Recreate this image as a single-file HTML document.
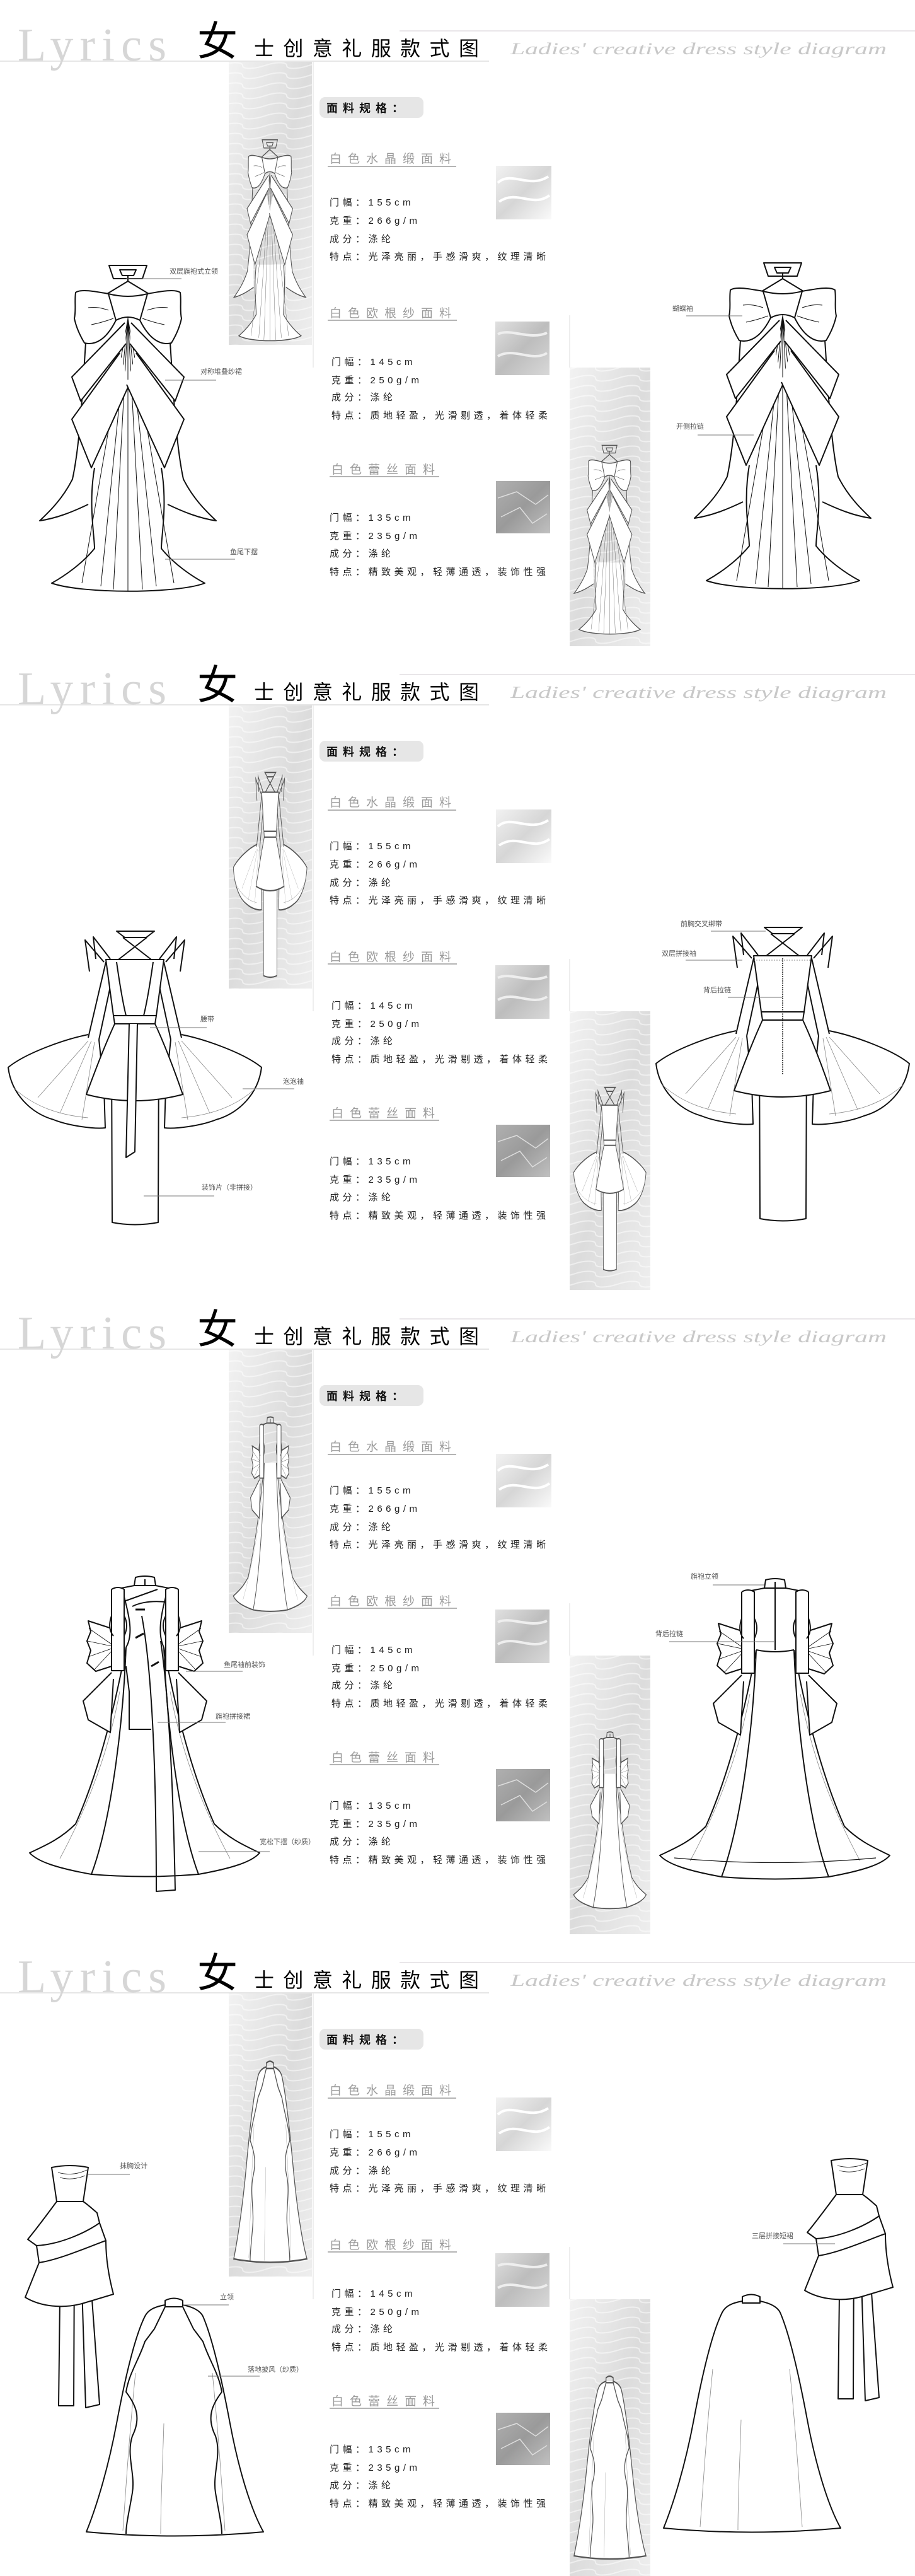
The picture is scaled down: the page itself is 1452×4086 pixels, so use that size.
<!DOCTYPE html>
<html><head><meta charset="utf-8"><style>
html,body{margin:0;padding:0;background:#fff;}
body{width:1452px;height:4086px;overflow:hidden;}
svg{display:block;}
.cj{font-family:"Liberation Sans","Noto Sans CJK SC",sans-serif;}
.lbl{font-family:"Liberation Sans","Noto Sans CJK SC",sans-serif;font-size:11px;fill:#555;}
.spec{font-family:"Liberation Sans","Noto Sans CJK SC",sans-serif;font-size:15px;fill:#222;letter-spacing:5.5px;}
.ttl{font-family:"Liberation Sans","Noto Sans CJK SC",sans-serif;font-size:19px;fill:#9a9a9a;letter-spacing:10px;}
</style></head><body>
<svg width="1452" height="4086" viewBox="0 0 1452 4086" xmlns="http://www.w3.org/2000/svg">
<defs>
<linearGradient id="sg" x1="0" y1="0" x2="1" y2="1"><stop offset="0" stop-color="#f2f2f2"/><stop offset="0.5" stop-color="#dcdcdc"/><stop offset="1" stop-color="#eeeeee"/></linearGradient>
<pattern id="wav" width="70" height="16" patternUnits="userSpaceOnUse"><path d="M0,8 C17,2 35,2 35,8 S52,14 70,8" stroke="#fff" stroke-width="2" fill="none"/></pattern>
<linearGradient id="w1" x1="0" y1="0" x2="1" y2="1"><stop offset="0" stop-color="#f2f2f2"/><stop offset="0.5" stop-color="#d6d6d6"/><stop offset="1" stop-color="#fafafa"/></linearGradient>
<linearGradient id="w2" x1="0" y1="0" x2="1" y2="1"><stop offset="0" stop-color="#e0e0e0"/><stop offset="0.5" stop-color="#bdbdbd"/><stop offset="1" stop-color="#d8d8d8"/></linearGradient>
<linearGradient id="w3" x1="0" y1="0" x2="1" y2="1"><stop offset="0" stop-color="#b0b0b0"/><stop offset="0.5" stop-color="#9a9a9a"/><stop offset="1" stop-color="#c0c0c0"/></linearGradient>

<g id="d1">
<path d="M150,742 C140,800 150,850 150,870 C130,895 100,915 82,925 C130,942 280,942 325,925 C306,915 276,895 256,870 C256,850 266,800 256,742" fill="#fff"/>
<path d="M136,544 C132,600 128,700 115,760 C100,790 80,810 63,826 C90,822 115,812 140,800" fill="#fff"/>
<path d="M270,544 C274,600 278,700 291,760 C306,790 326,810 343,826 C316,822 291,812 266,800" fill="#fff"/>
<path d="M203,500 L203,937 M203,505 L180,935 M203,505 L226,935 M203,505 L160,930 M203,505 L248,930 M203,505 L130,925 M203,505 L276,925" stroke-width="1"/>
<path d="M198,512 L114,598 L128,636 L200,545 M190,560 L114,665 L145,742 L205,610" fill="#fff"/>
<path d="M208,512 L292,598 L278,636 L206,545 M216,560 L292,665 L261,742 L201,610" fill="#fff"/>
<path d="M173,421 H233 L226,442 H180 Z M190,428 H216 L212,437 H194 Z M203,437 V446"/>
<path d="M203,446 L170,466 M203,446 L236,466"/>
<path d="M172,466 C150,462 128,458 120,464 C118,478 121,492 118,505 C121,520 128,534 134,544 C150,548 168,540 184,508" fill="#fff"/>
<path d="M234,466 C256,462 278,458 286,464 C288,478 285,492 288,505 C285,520 278,534 272,544 C256,548 238,540 222,508" fill="#fff"/>
<path d="M172,466 Q203,474 234,466 L222,508 Q203,498 184,508 Z" fill="#fff"/>
<path d="M140,488 C155,486 165,490 172,492 M145,515 C160,512 172,508 180,505 M266,488 C251,486 241,490 234,492 M261,515 C246,512 234,508 226,505" stroke-width="1"/>
</g>

<g id="d2c">
<path d="M140,620 C100,628 40,650 13,672 C18,715 50,745 85,755 C110,765 150,770 167,768 L165,705 L157,628" fill="#fff"/>
<path d="M288,620 C328,628 388,650 415,672 C410,715 378,745 343,755 C318,765 278,770 261,768 L263,705 L271,628" fill="#fff"/>
<path d="M22,705 C55,735 95,748 140,752 M406,705 C373,735 333,748 288,752 M140,630 L60,720 M145,630 L95,745 M150,632 L130,755 M288,630 L368,720 M283,630 L333,745 M278,632 L298,755" stroke-width="0.8" stroke="#888"/>
<path d="M185,456 H245 L232,466 H198 Z M195,466 L240,501 M233,466 L188,501"/>
<path d="M175,500 L148,465 L152,500 M165,505 L135,470 L142,520"/>
<path d="M253,500 L280,465 L276,500 M263,505 L293,470 L286,520"/>
<path d="M168,505 L140,625 M178,530 L157,628 M260,505 L288,625 M250,530 L271,628"/>
<path d="M177,643 L178,918 Q214,925 251,918 L252,643" fill="#fff"/>
<path d="M182,603 C165,640 150,680 137,715 Q214,735 290,715 C278,680 263,640 246,603" fill="#fff"/>
<path d="M168,501 H260 L248,590 H180 Z" fill="#fff"/>
<path d="M180,590 H248 L246,603 H182 Z" fill="#fff"/>
</g>
<g id="d3c">
<path d="M200,570 C185,650 160,760 120,850 C95,875 70,885 47,896 C60,910 90,920 145,930 Q230,937 315,930 C370,920 400,910 412,896 C390,885 365,875 340,850 C300,760 275,650 260,570" fill="#fff"/>
<path d="M200,570 C195,700 175,850 145,930 M260,570 C265,700 285,850 315,930"/>
<path d="M190,640 C170,750 130,840 95,905 M270,640 C290,750 330,840 365,905" stroke-width="0.8" stroke="#888"/>
<path d="M215,459 Q230,455 245,459 L247,472 H213 Z M230,462 V472"/>
<path d="M213,472 L182,478 M247,472 L278,478"/>
<path d="M177,540 L140,528 L144,545 L138,560 L144,575 L138,595 L152,608 L177,600 M177,610 L132,655 L140,685 L175,705 L180,620" fill="#fff"/>
<path d="M283,540 L320,528 L316,545 L322,560 L316,575 L322,595 L308,608 L283,600 M283,610 L328,655 L320,685 L285,705 L280,620" fill="#fff"/>
<path d="M177,565 L141,540 M177,568 L139,560 M177,572 L140,585 M177,576 L150,605 M283,565 L319,540 M283,568 L321,560 M283,572 L320,585 M283,576 L310,605" stroke-width="0.8"/>
<path d="M177,478 L177,607 H197 L197,478 Q187,472 177,478 M177,520 Q170,540 180,552 M197,520 Q205,535 197,552" fill="#fff"/>
<path d="M283,478 L283,607 H263 L263,478 Q273,472 283,478 M283,520 Q290,540 280,552 M263,520 Q255,535 263,552" fill="#fff"/>
</g>
<g id="d4top">
<path d="M96,500 L93,752 L117,752 L118,505 M128,500 L136,755 L158,750 L140,500" fill="#fff"/>
<path d="M62,525 L40,580 C65,595 100,598 130,590 L180,575 C172,545 168,515 168,490" fill="#fff"/>
<path d="M58,498 L62,525 C95,520 140,500 168,490 L158,462" fill="#fff"/>
<path d="M90,428 C70,455 55,475 44,488 L58,498 C95,496 135,478 158,462 L154,446 C145,438 138,432 132,428" fill="#fff"/>
<path d="M82,374 Q111,368 140,374 L132,428 H90 Z" fill="#fff"/>
<path d="M92,382 C110,387 125,384 138,378 M95,390 C110,394 122,392 135,387" stroke-width="0.8"/>
</g>
<g id="d4capeO">
<path d="M262,592 C245,595 235,600 230,610 C215,640 200,700 185,780 C170,860 150,920 137,952 Q276,965 418,952 C400,920 380,860 365,780 C350,700 335,640 322,610 C317,600 305,595 290,592" fill="#fff"/>
<path d="M262,585 Q276,578 290,585 L290,595 H262 Z"/>
<path d="M215,700 C205,800 200,880 195,950 M337,700 C347,800 352,880 357,950 M260,780 C258,850 255,900 255,955" stroke-width="0.8" stroke="#888"/>
</g>
<g id="d4capeF">
<path d="M262,595 L245,630 L230,650 C220,680 205,700 200,730 C215,750 225,770 210,800 C200,830 215,860 210,890 C205,920 200,940 200,955"/>
<path d="M290,595 L307,630 L322,650 C332,680 347,700 352,730 C337,750 327,770 342,800 C352,830 337,860 342,890 C347,920 352,940 352,955"/>
</g>
</defs>

<g id="P1">
<line x1="634" y1="49" x2="1452" y2="49" stroke="#e2dde2" stroke-width="1.5"/>
<line x1="0" y1="97" x2="776" y2="97" stroke="#ddd" stroke-width="1.5"/>
<text x="28" y="96" font-family="Liberation Serif,serif" font-size="74" fill="#d6d6d6" textLength="236" lengthAdjust="spacing">Lyrics</text>
<text x="313" y="88" class="cj" font-size="64" fill="#000">女</text>
<text x="403" y="88" class="cj" font-size="32" fill="#000" textLength="357" lengthAdjust="spacing">士创意礼服款式图</text>
<text x="810" y="86" font-family="Liberation Serif,serif" font-style="italic" font-size="26" fill="#c8c8c8" textLength="597" lengthAdjust="spacingAndGlyphs">Ladies' creative dress style diagram</text>
<line x1="497" y1="98" x2="497" y2="583" stroke="#ddd"/>
<line x1="904" y1="500" x2="904" y2="583" stroke="#ddd"/>
<rect x="363" y="98" width="132" height="449" fill="url(#sg)"/><rect x="363" y="98" width="132" height="449" fill="url(#wav)" opacity="0.5"/>
<rect x="904" y="583" width="128" height="442" fill="url(#sg)"/><rect x="904" y="583" width="128" height="442" fill="url(#wav)" opacity="0.5"/>
<rect x="507" y="154" width="165" height="33" rx="9" fill="#e6e6e6"/>
<text x="518" y="178" class="cj" font-size="18" font-weight="bold" fill="#111" letter-spacing="8">面料规格：</text>
<text x="523" y="258" class="ttl">白色水晶缎面料</text><line x1="520" y1="264" x2="724" y2="264" stroke="#888" stroke-width="1.2"/>
<rect x="787" y="263" width="88" height="85" fill="url(#w1)"/><path d="M790,290 C810,270 840,300 870,280 M792,320 C820,300 845,330 872,310" stroke="#fff" stroke-width="4" fill="none"/>
<text x="523" y="326" class="spec">门幅：155cm</text><text x="523" y="355" class="spec">克重：266g/m</text><text x="523" y="384" class="spec">成分：涤纶</text><text x="523" y="412" class="spec">特点：光泽亮丽，手感滑爽，纹理清晰</text>
<text x="523" y="503" class="ttl">白色欧根纱面料</text><line x1="520" y1="508" x2="725" y2="508" stroke="#888" stroke-width="1.2"/>
<rect x="786" y="510" width="86" height="85" fill="url(#w2)"/><path d="M790,530 C810,520 840,540 868,528 M790,565 C815,550 845,575 868,560" stroke="#eee" stroke-width="4" fill="none"/>
<text x="526" y="579" class="spec">门幅：145cm</text><text x="526" y="608" class="spec">克重：250g/m</text><text x="526" y="635" class="spec">成分：涤纶</text><text x="526" y="664" class="spec">特点：质地轻盈，光滑剔透，着体轻柔</text>
<text x="526" y="751" class="ttl">白色蕾丝面料</text><line x1="523" y1="756" x2="697" y2="756" stroke="#888" stroke-width="1.2"/>
<rect x="787" y="763" width="86" height="83" fill="url(#w3)"/><path d="M790,790 L820,780 L850,800 L870,785 M795,820 L825,805 L845,830 L868,815" stroke="#ddd" stroke-width="1.5" fill="none"/>
<text x="523" y="826" class="spec">门幅：135cm</text><text x="523" y="855" class="spec">克重：235g/m</text><text x="523" y="883" class="spec">成分：涤纶</text><text x="523" y="912" class="spec">特点：精致美观，轻薄通透，装饰性强</text>
</g>
<use href="#P1" y="1021"/>
<use href="#P1" y="2043"/>
<use href="#P1" y="3064"/>

<g fill="none" stroke="#111" stroke-width="2" stroke-linejoin="round">
<use href="#d1"/>
<use href="#d1" transform="translate(1039,-4)"/>
</g>
<svg x="368" y="215" width="122" height="330" viewBox="55 410 300 535" preserveAspectRatio="none"><g fill="none" stroke="#555" stroke-width="2.5"><use href="#d1"/></g></svg>
<svg x="908" y="700" width="120" height="310" viewBox="55 410 300 535" preserveAspectRatio="none"><g fill="none" stroke="#555" stroke-width="2.5"><use href="#d1"/></g></svg>
<g stroke="#777" stroke-width="0.9">
<line x1="200" y1="442" x2="288" y2="442"/><line x1="262" y1="603" x2="343" y2="603"/><line x1="262" y1="887" x2="373" y2="887"/>
<line x1="1089" y1="501" x2="1178" y2="501"/><line x1="1107" y1="690" x2="1196" y2="690"/>
</g>
<text x="269" y="434" class="lbl">双层旗袍式立领</text>
<text x="318" y="593" class="lbl">对称堆叠纱裙</text>
<text x="365" y="879" class="lbl">鱼尾下摆</text>
<text x="1067" y="493" class="lbl">蝴蝶袖</text>
<text x="1073" y="680" class="lbl">开侧拉链</text>

<g transform="translate(0,1021)">
<g fill="none" stroke="#111" stroke-width="2" stroke-linejoin="round">
<use href="#d2c"/>
<path d="M185,505 C190,540 195,570 200,590 M243,505 C238,540 233,570 228,590 M205,603 L200,815 L214,806 L218,603" fill="#fff"/>
<g transform="translate(1028,-6)"><use href="#d2c"/><path d="M214,505 V690" stroke-dasharray="2,1.5" stroke-width="1.5"/><path d="M168,508 H260" stroke="#888" stroke-width="1" stroke-dasharray="2,2"/></g>
</g>
<svg x="368" y="200" width="122" height="335" viewBox="5 450 420 480" preserveAspectRatio="none"><g fill="none" stroke="#555" stroke-width="3"><use href="#d2c"/></g></svg>
<svg x="908" y="700" width="120" height="300" viewBox="5 450 420 480" preserveAspectRatio="none"><g fill="none" stroke="#555" stroke-width="3"><use href="#d2c"/></g></svg>
<g stroke="#777" stroke-width="0.9">
<line x1="238" y1="609" x2="328" y2="609"/><line x1="385" y1="706" x2="467" y2="706"/><line x1="228" y1="876" x2="340" y2="876"/>
<line x1="1128" y1="456" x2="1215" y2="456"/><line x1="1088" y1="502" x2="1178" y2="502"/><line x1="1155" y1="561" x2="1242" y2="561"/>
</g>
<text x="318" y="599" class="lbl">腰带</text>
<text x="449" y="698" class="lbl">泡泡袖</text>
<text x="320" y="866" class="lbl">装饰片（非拼接）</text>
<text x="1080" y="448" class="lbl">前胸交叉绑带</text>
<text x="1050" y="495" class="lbl">双层拼接袖</text>
<text x="1116" y="553" class="lbl">背后拉链</text>
</g>

<g transform="translate(0,2043)">
<g fill="none" stroke="#111" stroke-width="2" stroke-linejoin="round">
<use href="#d3c"/>
<path d="M197,490 C205,520 212,550 200,570 M263,490 C255,520 250,550 260,570 M197,497 L250,478 M210,505 Q230,495 263,498"/>
<path d="M225,520 C240,600 248,750 248,957 L278,955 C275,800 268,650 255,560 M200,600 L205,640 L205,700 L240,700"/>
<path d="M215,510 H230 M215,555 L228,548 M240,600 L252,593" stroke-width="3"/>
<g transform="translate(1000,4)"><use href="#d3c"/><path d="M200,570 Q230,576 260,570 M230,465 V570" /><path d="M70,900 Q230,915 390,900" stroke-width="1.2"/></g>
</g>
<svg x="368" y="200" width="122" height="330" viewBox="40 450 380 510" preserveAspectRatio="none"><g fill="none" stroke="#555" stroke-width="3"><use href="#d3c"/></g></svg>
<svg x="908" y="700" width="120" height="300" viewBox="40 450 380 510" preserveAspectRatio="none"><g fill="none" stroke="#555" stroke-width="3"><use href="#d3c"/></g></svg>
<g stroke="#777" stroke-width="0.9">
<line x1="295" y1="608" x2="385" y2="608"/><line x1="250" y1="689" x2="358" y2="689"/><line x1="315" y1="894" x2="428" y2="894"/>
<line x1="1131" y1="471" x2="1213" y2="471"/><line x1="1062" y1="561" x2="1230" y2="561"/>
</g>
<text x="355" y="601" class="lbl">鱼尾袖前装饰</text>
<text x="342" y="683" class="lbl">旗袍拼接裙</text>
<text x="412" y="882" class="lbl">宽松下摆（纱质）</text>
<text x="1096" y="461" class="lbl">旗袍立领</text>
<text x="1040" y="552" class="lbl">背后拉链</text>
</g>

<g transform="translate(0,3064)">
<g fill="none" stroke="#111" stroke-width="2" stroke-linejoin="round">
<use href="#d4top"/>
<use href="#d4capeO"/><use href="#d4capeF"/>
<use href="#d4top" transform="translate(1237,-11)"/>
<use href="#d4capeO" transform="translate(916,-6)"/>
</g>
<svg x="368" y="200" width="122" height="330" viewBox="130 575 295 390" preserveAspectRatio="none"><g fill="none" stroke="#555" stroke-width="3"><use href="#d4capeO"/><use href="#d4capeF"/></g></svg>
<svg x="908" y="700" width="120" height="300" viewBox="130 575 295 390" preserveAspectRatio="none"><g fill="none" stroke="#555" stroke-width="3"><use href="#d4capeO"/><use href="#d4capeF"/></g></svg>
<g stroke="#777" stroke-width="0.9">
<line x1="140" y1="385" x2="206" y2="385"/><line x1="290" y1="592" x2="363" y2="592"/><line x1="330" y1="705" x2="412" y2="705"/>
<line x1="1243" y1="495" x2="1325" y2="495"/>
</g>
<text x="190" y="375" class="lbl">抹胸设计</text>
<text x="349" y="583" class="lbl">立领</text>
<text x="393" y="698" class="lbl">落地披风（纱质）</text>
<text x="1193" y="486" class="lbl">三层拼接短裙</text>
</g>
</svg>
</body></html>
